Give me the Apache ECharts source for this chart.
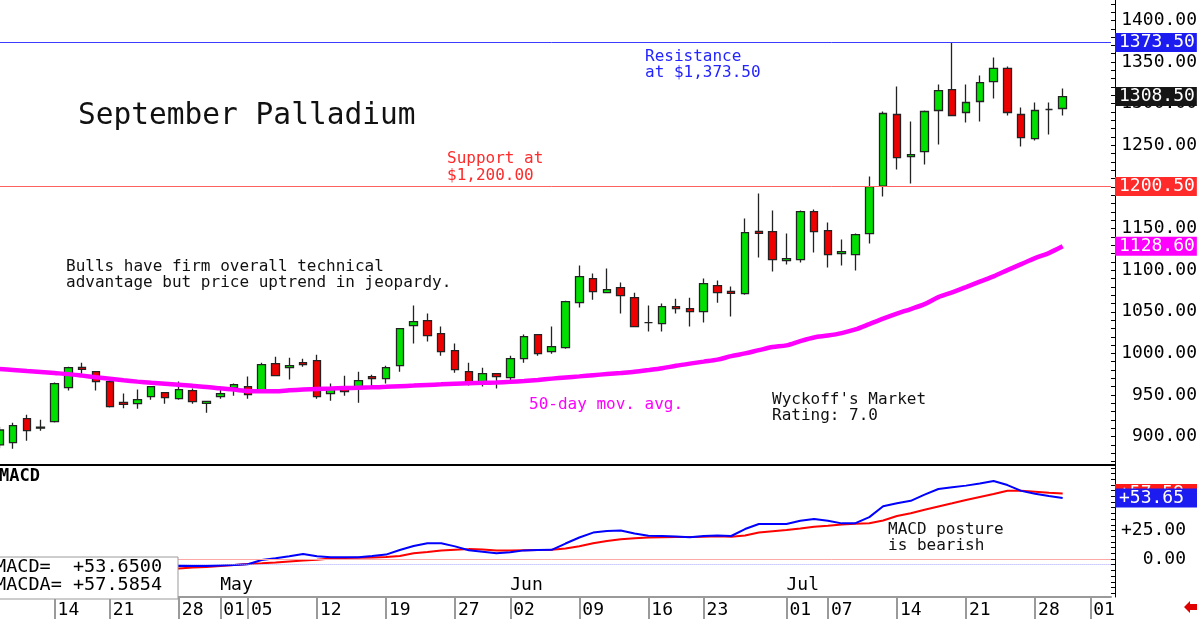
<!DOCTYPE html>
<html><head><meta charset="utf-8">
<script src="https://cdn.jsdelivr.net/npm/echarts@6/dist/echarts.min.js"></script>
<style>html,body{margin:0;padding:0;background:#fff;overflow:hidden}#c{position:absolute;left:-8px;top:0;width:1208px;height:619px}</style>
</head><body><div id="c"></div>
<script>
// ---------- DATA ----------
const dates = [
 "2025-04-08","2025-04-09","2025-04-10","2025-04-11","2025-04-14","2025-04-15","2025-04-16","2025-04-17",
 "2025-04-21","2025-04-22","2025-04-23","2025-04-24","2025-04-25","2025-04-28","2025-04-29","2025-04-30",
 "2025-05-01","2025-05-02","2025-05-05","2025-05-06","2025-05-07","2025-05-08","2025-05-09","2025-05-12",
 "2025-05-13","2025-05-14","2025-05-15","2025-05-16","2025-05-19","2025-05-20","2025-05-21","2025-05-22",
 "2025-05-23","2025-05-27","2025-05-28","2025-05-29","2025-05-30","2025-06-02","2025-06-03","2025-06-04",
 "2025-06-05","2025-06-06","2025-06-09","2025-06-10","2025-06-11","2025-06-12","2025-06-13","2025-06-16",
 "2025-06-17","2025-06-18","2025-06-20","2025-06-23","2025-06-24","2025-06-25","2025-06-26","2025-06-27",
 "2025-06-30","2025-07-01","2025-07-02","2025-07-03","2025-07-07","2025-07-08","2025-07-09","2025-07-10",
 "2025-07-11","2025-07-14","2025-07-15","2025-07-16","2025-07-17","2025-07-18","2025-07-21","2025-07-22",
 "2025-07-23","2025-07-24","2025-07-25","2025-07-28","2025-07-29","2025-07-30","2025-07-31","2025-08-01",
 "2025-08-04"
];
const openP = [890,892.8,921.6,910.2,918.0,958.9,983.2,978.1,966.1,941.2,939.6,948.0,952.9,945.6,955.3,940.0,
 948.0,958.9,960.1,954.1,987.7,983.0,988.9,991.3,951.7,960.1,958.9,972.1,969.7,985.3,1033.4,1039.4,
 1023.8,1003.3,978.1,966.1,975.7,970.9,993.7,1022.6,1002.1,1006.9,1061.0,1089.9,1073.0,1079.1,1067.0,1037.0,
 1035.8,1056.2,1053.8,1050.2,1081.5,1074.6,1071.8,1146.7,1146.4,1111.5,1112.7,1170.4,1147.6,1119.9,1118.7,1143.9,
 1201.0,1287.0,1236.5,1242.5,1291.8,1317.0,1289.4,1302.6,1326.6,1342.3,1287.0,1258.1,1293.0,1294.2];
const closeP = [908,913.2,907.2,911.4,963.7,982.9,980.8,966.1,936.0,938.8,944.4,960.1,946.8,956.5,942.0,942.4,
 951.7,962.5,950.5,986.5,973.3,985.2,986.5,948.0,957.7,954.1,967.3,969.7,982.9,1029.8,1038.2,1021.4,
 1002.1,980.5,966.1,975.7,972.1,993.7,1020.2,999.7,1008.1,1062.2,1092.3,1074.2,1076.6,1069.4,1032.2,1037.0,
 1056.2,1053.8,1050.2,1083.9,1073.0,1072.2,1145.2,1144.3,1112.7,1113.9,1170.4,1146.4,1118.7,1122.3,1142.8,1200.4,
 1288.2,1235.3,1238.9,1290.6,1315.8,1285.8,1301.4,1325.4,1342.3,1289.4,1259.3,1291.8,1293.0,1308.5];
const lowP = [886,885.5,895.2,907.2,917,955.3,975.7,955.3,935,934,933.6,944.4,939.6,944.4,939.6,928.8,
 945.6,949.2,945.6,952.9,972.5,968.5,984.1,945.6,943.2,949.2,940.8,960.1,963.7,978.1,1011.8,1014.2,
 997.3,976.9,961.3,960.1,957.7,963.7,988.9,997.3,999.7,1005.7,1055.0,1064.6,1072.5,1047.8,1031.5,1026.2,
 1026.2,1047.8,1032.2,1037.0,1061.0,1044.2,1070.6,1115.1,1098.3,1106.7,1109.1,1121.1,1103.1,1105.5,1099.5,1131.9,
 1188.4,1220.9,1204.1,1226.9,1250.9,1285.0,1277.4,1278.6,1306.2,1285.8,1248.5,1255.7,1262.9,1285.8];
const highP = [912,916.8,926.4,920.4,965,984.1,988.9,978.5,967,951.7,956.5,960.5,953.5,966.1,957.7,943.2,
 960.1,963.7,972.1,988.9,996.1,994.9,993.7,998.5,963.7,973.3,978.1,974.5,985.3,1030.5,1057.4,1047.8,
 1032.2,1011.8,988.9,982.9,976.0,997.3,1022.6,1023.0,1032.2,1063.4,1105.5,1095.9,1101.9,1085.1,1073.0,1057.4,
 1059.8,1065.8,1067.0,1089.9,1087.5,1080.3,1162.0,1192.0,1171.6,1143.9,1171.6,1172.8,1157.2,1136.7,1143.9,1212.5,
 1290.6,1320.6,1278.6,1291.8,1323.0,1373.5,1323.0,1333.9,1355.5,1344.7,1295.4,1301.4,1301.4,1318.2];
const ma50 = [981.3,980.1,978.9,977.7,976.4,975.1,973.3,971.4,969.6,967.8,
 966.1,964.7,963.5,962.3,961.0,959.7,958.0,956.5,954.8,954.4,
 954.5,955.6,956.5,957.3,957.8,958.3,958.8,959.2,959.8,960.6,
 961.3,962.1,962.8,963.6,964.2,964.6,965.1,965.8,966.8,968.1,
 969.7,971.1,972.4,973.8,975.2,976.5,977.9,979.9,982.1,985.1,
 987.7,990.1,992.5,996.7,1000.0,1003.9,1007.6,1009.7,1014.8,1019.2,
 1021.4,1024.4,1028.8,1035.2,1041.8,1047.8,1053.3,1059.2,1067.6,1073.3,
 1079.7,1086.3,1092.6,1100.1,1107.3,1114.4,1120.5,1128.6];
const macd = [-9,-9.5,-9.5,-9,-8,-6.5,-5.5,-5,-5.5,-6,-6,-6,-6,
 -5.9,-6.1,-6.1,-5.7,-5.3,-4.6,-0.9,0.7,2.5,4.4,2.4,1.6,1.5,1.6,2.6,3.9,7.9,11.4,13.8,13.8,11.1,7.7,6.4,5.0,
 5.9,7.6,7.9,8.1,13.6,18.9,23.2,24.6,25.0,22.4,20.4,20.2,19.7,19.1,20.2,20.6,20.2,26.3,30.7,30.7,30.7,33.6,
 35.1,33.5,31.3,31.5,36.8,46.3,48.9,51.1,56.5,61.4,62.9,64.4,66.2,68.4,64.9,59.8,57.3,55.4,53.65];
const macdAvg = [-4,-5,-6,-6.5,-7,-7.2,-7.2,-7.2,-7.3,-7.4,-7.5,-7.6,-7.6,
 -8.2,-7.5,-7.0,-6.1,-5.3,-4.4,-3.8,-3.1,-2.2,-1.3,-0.7,0.4,0.9,1.1,1.3,1.7,2.6,5.0,6.1,7.4,8.1,8.7,8.3,7.6,
 7.4,7.7,7.9,8.1,9.2,11.2,13.8,15.8,17.4,18.2,19.0,19.2,19.3,19.4,19.5,19.9,19.6,20.6,23.2,24.4,25.4,26.8,
 28.3,29.3,30.4,30.9,31.4,33.8,37.7,40.2,43.2,46.1,48.9,51.8,54.4,57.0,59.9,59.9,59.1,58.1,57.59];
const macdText = "+53.6500";
const macdaText = "+57.5854";
const tickDates = ["2025-04-14","2025-04-21","2025-04-28","2025-05-01","2025-05-05","2025-05-12","2025-05-19",
 "2025-05-27","2025-06-02","2025-06-09","2025-06-16","2025-06-23","2025-07-01","2025-07-07","2025-07-14",
 "2025-07-21","2025-07-28","2025-08-01"];
const monthStarts = {"2025-05-01":"May","2025-06-02":"Jun","2025-07-01":"Jul"};
const priceLabels = [900,950,1000,1050,1100,1150,1250,1300,1350,1400];
const macdLabels = [0,25];
const resistance = 1373.5;
const support = 1200.5;

// ---------- CHART ----------
const MONO = '"DejaVu Sans Mono", monospace';
const OX = 8; // container is shifted 8px left so the first candle can sit half outside
const candles = dates.map((d,i)=> i < openP.length ? [openP[i], closeP[i], lowP[i], highP[i]] : '-');
const tickSet = new Set(tickDates);
const lastClose = closeP[closeP.length-1];
const lastMA = ma50[ma50.length-1];
const lastMacd = macd[macd.length-1];
const lastMacdA = macdAvg[macdAvg.length-1];

function range(a,b,s){const r=[];for(let v=a;v<=b+1e-9;v+=s)r.push(v);return r;}

function boxLabel(text,bg,width){
  return {show:true, position:'end', distance:4, formatter:()=>text, color:'#fff',
    backgroundColor:bg, padding:[1,2,0,4], fontSize:18, lineHeight:18, fontFamily:MONO,
    width: width, align:'left'};
}
const hidden = {color:'transparent', width:1};

const chart = echarts.init(document.getElementById('c'));
chart.setOption({
  animation:false,
  backgroundColor:'#fff',
  grid:[
    {left:0.4, right:89, top:0, height:465},
    {left:0.4, right:89, top:465, height:132}
  ],
  xAxis:[
    {type:'category', gridIndex:0, data:dates, show:false, axisLine:{onZero:false}},
    {type:'category', gridIndex:1, data:dates, position:'bottom',
     axisLine:{show:true, onZero:false, lineStyle:{color:'#9a9a9a', width:2}},
     axisTick:{show:true, alignWithLabel:true, length:22, interval:(i,v)=>tickSet.has(v), lineStyle:{color:'#9a9a9a', width:2}},
     axisLabel:{interval:(i,v)=>tickSet.has(v), formatter:v=>v.slice(8), align:'left', padding:[0,0,0,3],
       margin:4, color:'#000', fontSize:18, fontFamily:MONO},
     splitLine:{show:false}},
    {type:'category', gridIndex:1, data:dates, position:'bottom',
     axisLine:{show:false, onZero:false}, axisTick:{show:false}, splitLine:{show:false},
     axisLabel:{inside:true, interval:(i,v)=>v in monthStarts, formatter:v=>monthStarts[v]||'', align:'left',
       margin:3, color:'#000', fontSize:18, fontFamily:MONO}}
  ],
  yAxis:[
    {type:'value', gridIndex:0, position:'right', offset:4, min:865.93, max:1424.56,
     splitLine:{show:false},
     axisLine:{show:true, lineStyle:{color:'#000', width:1}},
     axisTick:{show:true, inside:true, length:4, customValues:range(870,1420,10), lineStyle:{color:'#000'}},
     axisLabel:{customValues:priceLabels, formatter:v=>v.toFixed(2), align:'right', margin:82,
       color:'#000', fontSize:18, fontFamily:MONO}},
    {type:'value', gridIndex:1, position:'right', offset:4, min:-33.3, max:82.5,
     splitLine:{show:false},
     axisLine:{show:true, lineStyle:{color:'#000', width:1}},
     axisTick:{show:true, inside:true, length:4, customValues:range(-30,80,5), lineStyle:{color:'#000'}},
     axisLabel:{customValues:macdLabels, formatter:v=>(v>0?'+':'')+v.toFixed(2), align:'right', margin:71,
       color:'#000', fontSize:18, fontFamily:MONO}}
  ],
  series:[
    {type:'candlestick', name:'Price', xAxisIndex:0, yAxisIndex:0, data:candles, barWidth:8,
     itemStyle:{color:'#00e000', color0:'#ee0000', borderColor:'#222', borderColor0:'#222', borderColorDoji:'#222', borderWidth:1.3},
     markLine:{symbol:['none','none'], silent:true, animation:false, data:[
       {yAxis:resistance, lineStyle:{color:'#3c3cff', width:1, type:'solid'}, label:boxLabel(resistance.toFixed(2),'#1c1cf0')},
       {yAxis:support, lineStyle:{color:'#ff6060', width:1, type:'solid'}, label:boxLabel(support.toFixed(2),'#ff2a2a')},
       {yAxis:lastClose, lineStyle:hidden, label:boxLabel(lastClose.toFixed(2),'#151515')}
     ]}},
    {type:'line', name:'MA50', xAxisIndex:0, yAxisIndex:0, data:ma50, showSymbol:false, symbol:'none', smooth:0.3,
     lineStyle:{color:'#ff00ff', width:4.5}, z:3,
     markLine:{symbol:['none','none'], silent:true, animation:false, data:[
       {yAxis:lastMA, lineStyle:hidden, label:boxLabel(lastMA.toFixed(2),'#ff00ff')}
     ]}},
    {type:'line', name:'MACDA', xAxisIndex:1, yAxisIndex:1, data:macdAvg, showSymbol:false, symbol:'none',
     lineStyle:{color:'#ff0000', width:2}, z:3,
     markLine:{symbol:['none','none'], silent:true, animation:false, data:[
       {yAxis:0, lineStyle:{color:'#ffa8a8', width:1, type:'solid'}, label:{show:false}},
       {yAxis:-4.4, lineStyle:{color:'#a8a8ff', width:1, type:'dotted'}, label:{show:false}},
       {yAxis:lastMacdA, lineStyle:hidden, label:boxLabel('+'+lastMacdA.toFixed(2),'#ff1a1a',76)}
     ]}},
    {type:'line', name:'MACD', xAxisIndex:1, yAxisIndex:1, data:macd, showSymbol:false, symbol:'none',
     lineStyle:{color:'#0000ff', width:2}, z:4,
     markLine:{symbol:['none','none'], silent:true, animation:false, data:[
       {yAxis:lastMacd, lineStyle:hidden, label:boxLabel('+'+lastMacd.toFixed(2),'#1c1cf0',76)}
     ]}}
  ],
  graphic:{elements:[
    {type:'rect', z:50, shape:{x:OX,y:464,width:1115,height:2}, style:{fill:'#000'}},
    {type:'text', z:60, x:OX+78, y:116, style:{text:'September Palladium', font:'29.5px '+MONO, fill:'#111', verticalAlign:'middle'}},
    {type:'text', z:60, x:OX+645, y:65, style:{text:'Resistance\nat $1,373.50', font:'16px '+MONO, lineHeight:16, fill:'#2424ff', verticalAlign:'middle'}},
    {type:'text', z:60, x:OX+447, y:167, style:{text:'Support at\n$1,200.00', font:'16px '+MONO, lineHeight:17, fill:'#ff2a2a', verticalAlign:'middle'}},
    {type:'text', z:60, x:OX+66, y:275, style:{text:'Bulls have firm overall technical\nadvantage but price uptrend in jeopardy.', font:'16px '+MONO, lineHeight:16, fill:'#111', verticalAlign:'middle'}},
    {type:'text', z:60, x:OX+529, y:405, style:{text:'50-day mov. avg.', font:'16px '+MONO, fill:'#ff00ff', verticalAlign:'middle'}},
    {type:'text', z:60, x:OX+772, y:408, style:{text:"Wyckoff's Market\nRating: 7.0", font:'16px '+MONO, lineHeight:16, fill:'#111', verticalAlign:'middle'}},
    {type:'text', z:60, x:OX+888, y:538, style:{text:'MACD posture\nis bearish', font:'16px '+MONO, lineHeight:16, fill:'#111', verticalAlign:'middle'}},
    {type:'text', z:60, x:OX-1, y:477, style:{text:'MACD', font:'bold 17px '+MONO, fill:'#000', verticalAlign:'middle'}},
    {type:'rect', z:100, shape:{x:OX-1,y:557,width:179,height:42}, style:{fill:'#fff', stroke:'#9a9a9a', lineWidth:1}},
    {type:'text', z:101, x:OX-5, y:576, style:{text:'MACD=  '+macdText+'\nMACDA= '+macdaText, font:'18.5px '+MONO, lineHeight:18, fill:'#000', verticalAlign:'middle'}},
    {type:'polygon', z:60, shape:{points:[[OX+1184,607],[OX+1190,601],[OX+1190,604],[OX+1197,604],[OX+1197,610],[OX+1190,610],[OX+1190,613]]}, style:{fill:'#e00000'}}
  ]}
});
</script>
</body></html>
